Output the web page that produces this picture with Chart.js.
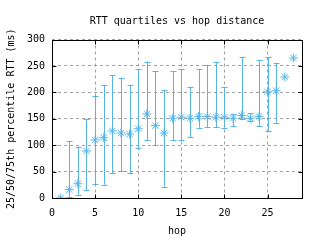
<!DOCTYPE html>
<html><head><meta charset="utf-8">
<script src="https://cdn.jsdelivr.net/npm/chart.js@4.4.1/dist/chart.umd.min.js"></script>
<style>html,body{margin:0;padding:0;background:#fff}#c{display:block}</style>
</head><body>
<div style="width:320px;height:240px"><canvas id="c" width="320" height="240"></canvas></div>
<script>
const hops   = [1,2,3,4,5,6,7,8,9,10,11,12,13,14,15,16,17,18,19,20,21,22,23,24,25,26,27,28];
const median = [0,16,27,89,110,114,127,123,121,131,159,137,123,151,153,151,154,154,153,153,151,156,151,154,201,203,229,265];
const q25    = [null,2,6,15,26,25,47,51,47,95,110,100,21,110,110,115,133,134,134,133,136,149,146,136,127,142,null,null];
const q75    = [null,108,97,150,193,214,232,227,214,244,258,240,204,240,244,210,244,252,258,210,159,267,161,261,267,256,null,null];
const xTicks = [0,5,10,15,20,25];
const yTicks = [0,50,100,150,200,250,300];
const titleText = 'RTT quartiles vs hop distance';
const xTitle = 'hop';
const yTitle = '25/50/75th percentile RTT (ms)';

const BLUE = '#56b4e9';
const FONT = {family:'DejaVu Sans Mono', size:10, weight:'normal', lineHeight:1.2};

const errPlugin = {
  id:'err',
  beforeDatasetsDraw(chart){
    const {ctx, scales:{x,y}} = chart;
    ctx.save();
    ctx.strokeStyle = BLUE; ctx.lineWidth = 1;
    hops.forEach((h,i)=>{
      if (q25[i]==null || q75[i]==null) return;
      const px = Math.round(x.getPixelForValue(h))+0.5;
      const y1 = y.getPixelForValue(q25[i]), y2 = y.getPixelForValue(q75[i]);
      ctx.beginPath();
      ctx.moveTo(px,y1); ctx.lineTo(px,y2);
      ctx.moveTo(px-3,Math.round(y1)+0.5); ctx.lineTo(px+3,Math.round(y1)+0.5);
      ctx.moveTo(px-3,Math.round(y2)+0.5); ctx.lineTo(px+3,Math.round(y2)+0.5);
      ctx.stroke();
    });
    ctx.restore();
  },
  afterDraw(chart){
    const {ctx, chartArea:a, scales:{x,y}} = chart;
    ctx.save();
    ctx.strokeStyle = '#000'; ctx.lineWidth = 1;
    const L=Math.round(a.left)+0.5, R=Math.round(a.right)+0.5, T=Math.round(a.top)+0.5, B=Math.round(a.bottom)+0.5;
    ctx.strokeRect(L,T,R-L,B-T);
    ctx.beginPath();
    xTicks.forEach(v=>{const p=Math.round(x.getPixelForValue(v))+0.5;
      ctx.moveTo(p,B); ctx.lineTo(p,B-4); ctx.moveTo(p,T); ctx.lineTo(p,T+4);});
    yTicks.forEach(v=>{const p=Math.round(y.getPixelForValue(v))+0.5;
      ctx.moveTo(L,p); ctx.lineTo(L+4,p); ctx.moveTo(R,p); ctx.lineTo(R-4,p);});
    ctx.stroke();
    // title centred over the plot area
    ctx.fillStyle = '#000';
    ctx.font = '10px "DejaVu Sans Mono"';
    ctx.textAlign = 'center'; ctx.textBaseline = 'middle';
    ctx.fillText(titleText, (a.left+a.right)/2, 21);
    ctx.restore();
  }
};

new Chart(document.getElementById('c'), {
  type:'scatter',
  data:{datasets:[{
    data: hops.map((h,i)=>({x:h,y:median[i]})),
    pointStyle:'star', pointRadius:4.5, pointHoverRadius:4.5,
    borderColor:BLUE, backgroundColor:BLUE, pointBorderWidth:1, showLine:false
  }]},
  options:{
    responsive:false, animation:false, devicePixelRatio:1,
    layout:{padding:{left:0,right:18,top:39.5,bottom:0}},
    plugins:{
      legend:{display:false}, tooltip:{enabled:false}, title:{display:false}
    },
    scales:{
      x:{type:'linear', min:0, max:29,
        afterBuildTicks(s){ s.ticks = xTicks.map(v=>({value:v})); },
        afterFit(s){ s.height = 42; },
        ticks:{color:'#000', font:FONT, padding:9, maxRotation:0},
        grid:{color:'#a0a0a0', drawTicks:false, lineWidth:1},
        border:{display:false, dash:[3,3]},
        title:{display:true, text:xTitle, color:'#000', font:FONT, padding:{top:3,bottom:3}}
      },
      y:{type:'linear', min:0, max:300,
        afterBuildTicks(s){ s.ticks = yTicks.map(v=>({value:v})); },
        afterFit(s){ s.width = 52; },
        ticks:{color:'#000', font:FONT, padding:7},
        grid:{color:'#a0a0a0', drawTicks:false, lineWidth:1},
        border:{display:false, dash:[3,3]},
        title:{display:true, text:yTitle, color:'#000', font:FONT, padding:{top:5,bottom:3}}
      }
    }
  },
  plugins:[errPlugin]
});
</script>
</body></html>
